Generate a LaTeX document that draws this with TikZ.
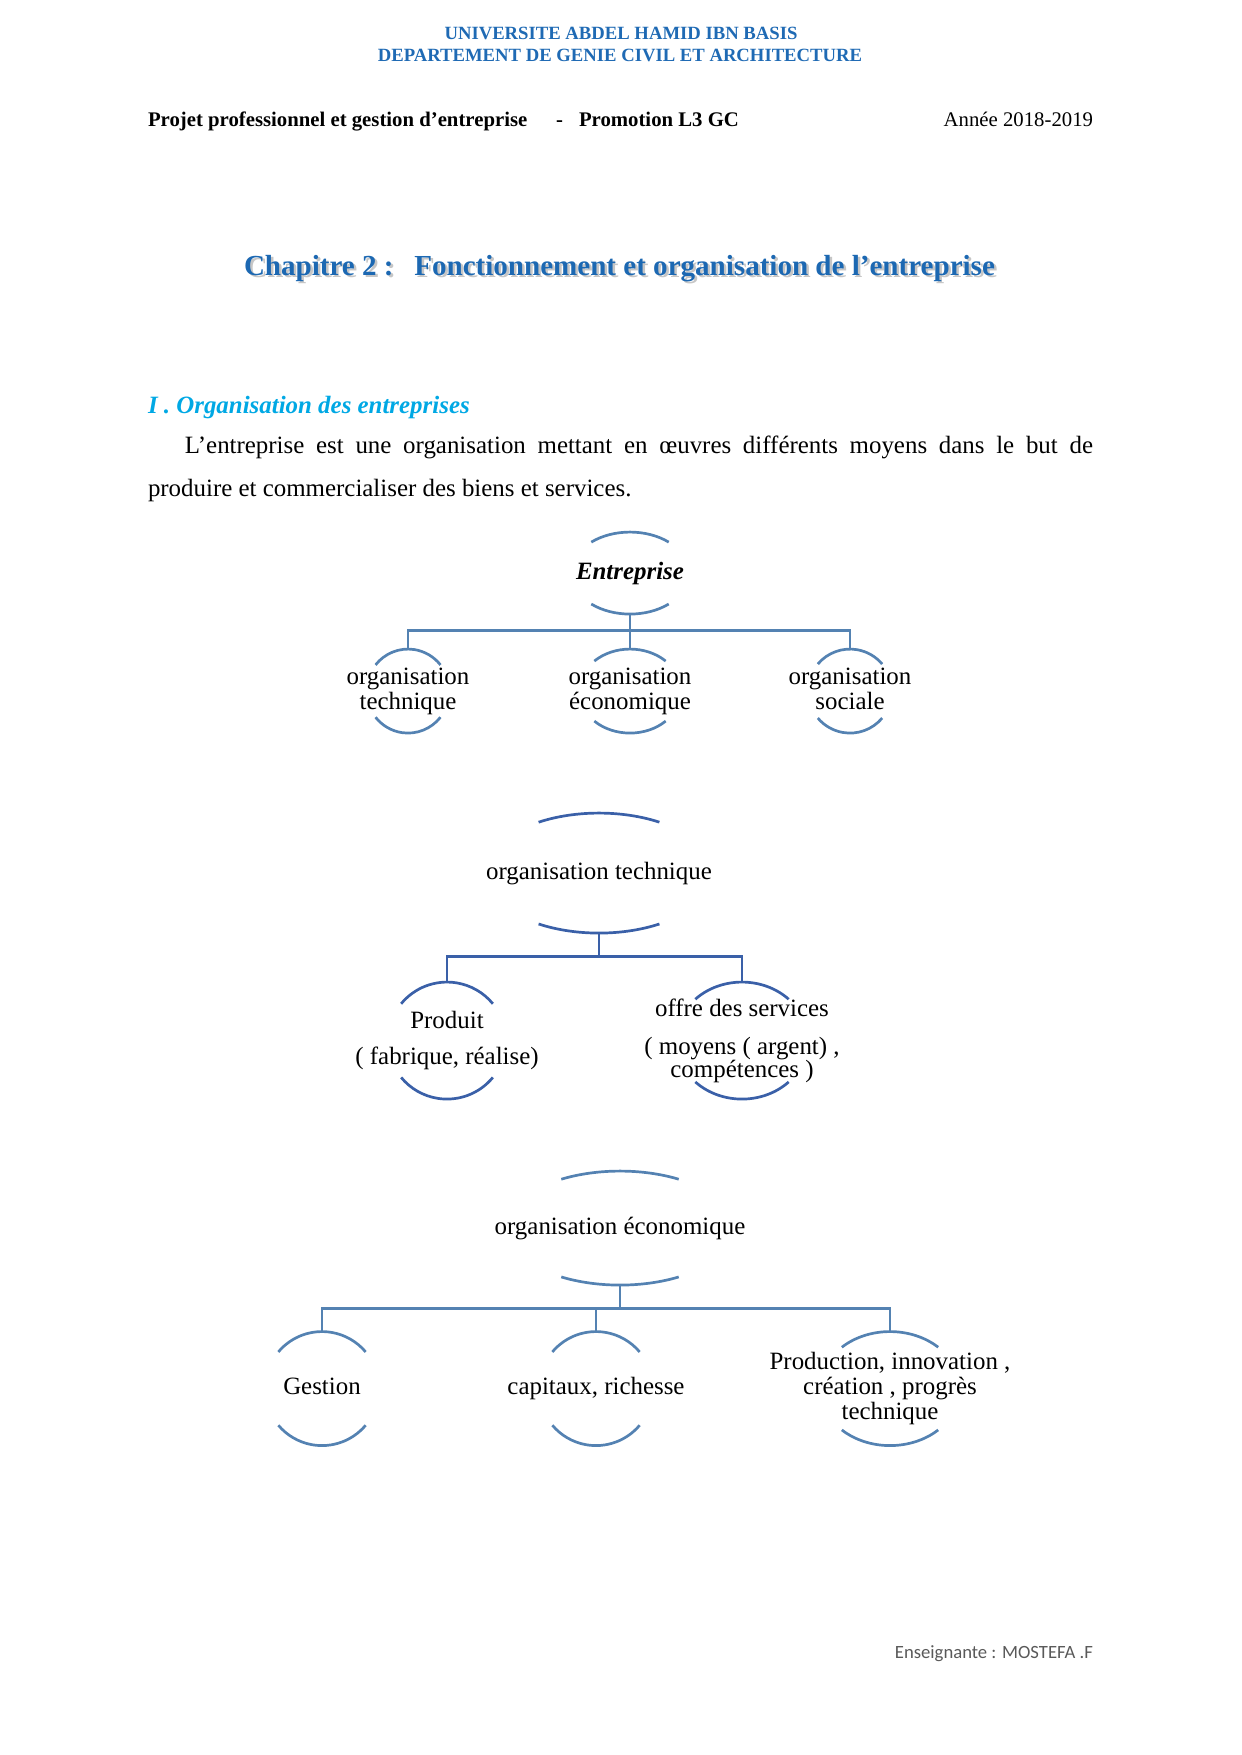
\documentclass[tikz,border=0pt]{standalone}
\usepackage{fontspec}
\setmainfont{Liberation Serif}
\newfontfamily\calibri{Carlito}
\usepackage{xcolor}
\usepackage{tikz}

\definecolor{unibleu}{RGB}{31,106,180}
\definecolor{titrebleu}{RGB}{28,104,178}
\definecolor{sectbleu}{RGB}{0,168,228}
\definecolor{trait}{RGB}{84,130,178}
\definecolor{traitfonce}{RGB}{58,96,168}
\definecolor{pied}{RGB}{89,89,89}

\begin{document}
\begin{tikzpicture}[
  x=0.4818pt, y=-0.4818pt,
  txt/.style={inner sep=0pt, outer sep=0pt},
  head/.style={txt, anchor=base, font=\fontsize{9}{10}\selectfont\bfseries, text=unibleu},
  entete/.style={txt, anchor=base west, font=\fontsize{10}{12}\selectfont\bfseries},
  chap/.style={txt, anchor=base west, font=\fontsize{14}{16}\selectfont\bfseries},
  bubble/.style={txt, align=center, font=\fontsize{12}{12}\selectfont},
  arcline/.style={line width=1.3pt},
  link/.style={line width=1.4pt, draw=trait}
]
\useasboundingbox (0,0) rectangle (1241,1755);

\begin{scope}[yshift=-1pt]
% En-tete
\node[head] (uni) at (621,37) {UNIVERSITE ABDEL HAMID IBN BASIS};
\node[head] (dept) at (620,59) {DEPARTEMENT DE GENIE CIVIL ET ARCHITECTURE};
\node[entete] (projet) at (148,124) {Projet professionnel et gestion d’entreprise};
\node[entete] (tiret) at (556,124) {-};
\node[entete] (promo) at (579,124) {Promotion L3 GC};
\node[txt, anchor=base east, font=\fontsize{10}{12}\selectfont] (annee) at (1093,124) {Année 2018-2019};

% Titre du chapitre (avec ombre)
\node[chap, text=gray!45] (chapombre) at (246.5,275.5) {Chapitre 2 :\hspace{10pt}Fonctionnement et organisation de l’entreprise};
\node[chap, text=titrebleu] (chapitre) at (244,273) {Chapitre 2 :\hspace{10pt}Fonctionnement et organisation de l’entreprise};

% Section et paragraphe
\node[txt, anchor=base west, font=\fontsize{12}{14}\selectfont\bfseries\itshape, text=sectbleu] (section) at (148,411) {I . Organisation des entreprises};
\node[txt, anchor=north west, text width=455.3pt, align=justify, font=\fontsize{12}{20.7}\selectfont] (para) at (148,434)
  {\hspace*{17.8pt}L’entreprise est une organisation mettant en œuvres différents moyens dans le but de\linebreak produire et commercialiser des biens et services.};

% Schema 1
\node[bubble, font=\fontsize{12}{12}\selectfont\bfseries\itshape, minimum height=39.5pt] (ent) at (630,571) {Entreprise};
\node[bubble, minimum height=40.5pt] (ot1) at (408,689) {organisation\\technique};
\node[bubble, minimum height=40.5pt] (oe1) at (630,689) {organisation\\économique};
\node[bubble, minimum height=40.5pt] (os1) at (850,689) {organisation\\sociale\vphantom{q}};

% Schema 2
\node[bubble, minimum height=57.8pt] (ot) at (599,871) {organisation technique};
\node[bubble, minimum height=56.4pt] (prod) at (447,1038.5) {Produit\\[5.3pt]( fabrique, réalise)};
\node[bubble, minimum height=56.4pt] (offre) at (742,1038.5) {offre des services\\[6.2pt]( moyens ( argent) ,\\[-1pt]compétences )};

% Schema 3
\node[bubble, minimum height=54.9pt] (oe) at (620,1226) {organisation économique};
\node[bubble, minimum height=54.9pt] (gest) at (322,1386.5) {Gestion\vphantom{q}};
\node[bubble, minimum height=54.9pt] (capi) at (596,1386.5) {capitaux, richesse};
\node[bubble, minimum height=54.9pt] (prodi) at (890,1386.5) {Production, innovation ,\\création , progrès\\technique};

% Arcs autour des textes
\foreach \n/\a/\b/\t/\c in {ent/59/41/49/trait, ot1/41.5/42/38.5/trait, oe1/51/42/45.6/trait, os1/42/42/40/trait,
    ot/114/60/58/traitfonce, prod/59/58.5/39/traitfonce, offre/66/58.5/45/traitfonce,
    oe/114/57/59/trait, gest/57/57/40/trait, capi/57/57/40/trait, prodi/70/57/46.5/trait}{
  \draw[arcline, draw=\c] ([xshift=-\a*cos(\t)*0.4818, yshift=\b*sin(\t)*0.4818]\n.center)
    arc[start angle=180+\t, end angle=360-\t, x radius=\a, y radius=\b];
  \draw[arcline, draw=\c] ([xshift=\a*cos(\t)*0.4818, yshift=-\b*sin(\t)*0.4818]\n.center)
    arc[start angle=\t, end angle=180-\t, x radius=\a, y radius=\b];
}

% Liaisons
\foreach \f in {ot1,oe1,os1}
  \draw[link] (ent.south) -- ++(0,16) -| (\f.north);
\foreach \f in {prod,offre}
  \draw[link, draw=traitfonce] (ot.south) -- ++(0,23) -| (\f.north);
\foreach \f in {gest,capi,prodi}
  \draw[link] (oe.south) -- ++(0,23) -| (\f.north);

% Pied de page
\node[txt, anchor=base east, font=\calibri\fontsize{9}{10}\selectfont, text=pied] (prof) at (1093,1656) {Enseignante : MOSTEFA .F};
\end{scope}

\end{tikzpicture}
\end{document}
